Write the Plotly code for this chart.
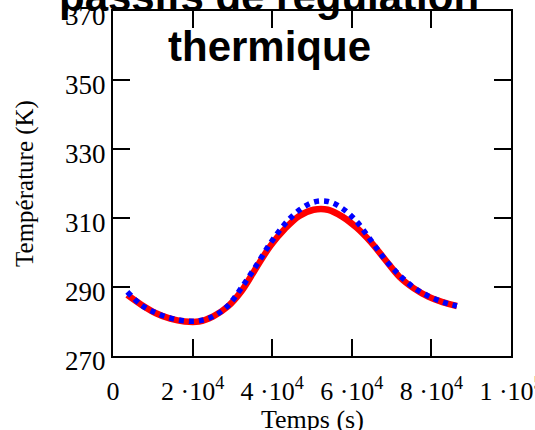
import plotly.graph_objects as go

# Time (s), hourly samples over one day
t_hours = [3600 * k for k in range(1, 25)]

# Red solid curve (K)
T_red = [287.7, 284.8, 282.4, 280.8, 280.0, 280.0, 281.5, 284.3, 289.0, 295.6,
         302.0, 306.9, 310.6, 312.4, 312.4, 310.4, 307.2, 303.0, 297.9, 292.9,
         289.6, 287.2, 285.6, 284.5]

# Blue dotted curve (K)
T_blue = [288.6, 284.7, 282.5, 281.0, 280.2, 280.2, 281.5, 284.5, 290.0, 296.2,
          302.8, 308.3, 312.3, 314.6, 314.8, 312.8, 309.0, 303.5, 297.9, 293.4,
          289.8, 287.4, 285.7, 284.5]

x_tickvals = [0, 20000, 40000, 60000, 80000, 100000]
x_ticktext = ["0", "2 ·10<sup>4</sup>", "4 ·10<sup>4</sup>", "6 ·10<sup>4</sup>",
              "8 ·10<sup>4</sup>", "1 ·10<sup>5</sup>"]
y_tickvals = [270, 290, 310, 330, 350, 370]
y_ticktext = ["270", "290", "310", "330", "350", "370"]

title_line1 = "passifs de régulation"
title_line2 = "thermique"
x_title = "Temps (s)"
y_title = "Température (K)"

fig = go.Figure()
fig.add_trace(go.Scatter(x=t_hours, y=T_red, mode="lines", line_shape="spline",
                         line=dict(color="#ff0000", width=6.5), showlegend=False))
fig.add_trace(go.Scatter(x=t_hours, y=T_blue, mode="lines", line_shape="spline",
                         line=dict(color="#0000ff", width=5.5, dash="5px,5px"),
                         showlegend=False))

serif = "Liberation Serif, Times New Roman, serif"
axis_common = dict(showline=True, linecolor="black", linewidth=2, mirror="ticks",
                   ticks="inside", ticklen=17, tickwidth=2, tickcolor="black",
                   showgrid=False, zeroline=False, ticklabeloverflow="allow")

fig.update_xaxes(range=[0, 100000], tickmode="array", tickvals=x_tickvals,
                 ticktext=x_ticktext, ticklabelstandoff=11,
                 tickfont=dict(family=serif, size=26, color="black"),
                 **axis_common)
fig.update_yaxes(range=[270, 370], tickmode="array", tickvals=y_tickvals,
                 ticktext=y_ticktext, ticklabelshift=5,
                 tickfont=dict(family=serif, size=27, color="black"),
                 title=dict(text=y_title, font=dict(family=serif, size=25, color="black"),
                            standoff=24),
                 **axis_common)

fig.add_annotation(text=x_title, xref="paper", yref="paper",
                   x=0.5, y=-0.137, xanchor="center", yanchor="top",
                   showarrow=False, font=dict(family=serif, size=26, color="black"))

bold_font = dict(family="Liberation Sans, Arial, sans-serif", size=42, color="black")
fig.add_annotation(text="<b>" + title_line1 + "</b>", xref="paper", yref="paper",
                   x=0.3925, y=1.043, xanchor="center", yanchor="middle",
                   showarrow=False, font=bold_font)
fig.add_annotation(text="<b>" + title_line2 + "</b>", xref="paper", yref="paper",
                   x=0.3925, y=0.897, xanchor="center", yanchor="middle",
                   showarrow=False, font=bold_font)

fig.update_layout(width=535, height=430, paper_bgcolor="white", plot_bgcolor="white",
                  margin=dict(l=113, r=24, t=11, b=74, autoexpand=False))

fig.write_html("out.html")
